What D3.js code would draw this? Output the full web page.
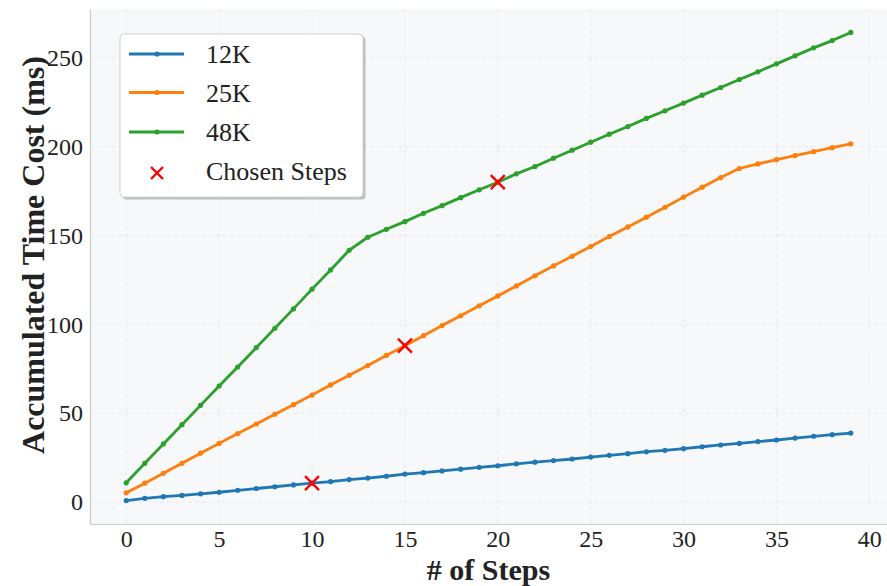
<!DOCTYPE html>
<html lang="en">
<head>
	<meta charset="UTF-8">
	<title>Accumulated Time Cost</title>
	<script src="https://cdn.jsdelivr.net/npm/d3@7"></script>
	<style>
		body { margin: 0; background: #fff; }
		text { font-family: "Liberation Serif", "Times New Roman", serif; fill: #222; }
		.grid line { stroke: #e3e5e8; stroke-dasharray: 4,3; stroke-width: 0.8; }
		.axis path, .axis line { stroke: #ccc; }
		.axis text { font-size: 24px; fill: #222; }
	</style>
</head>
<body>
	<div id="container"></div>
	<script>
		var width = 887, height = 586;
		var plot = { left: 90, top: 9, right: 887, bottom: 524 };

		var steps = d3.range(0, 40);

		var cost12K = [0.8, 2.1, 3.0, 3.7, 4.6, 5.5, 6.6, 7.6, 8.6, 9.6,
			10.6, 11.5, 12.6, 13.5, 14.5, 15.7, 16.5, 17.5, 18.5, 19.5,
			20.4, 21.5, 22.4, 23.3, 24.2, 25.3, 26.3, 27.2, 28.3, 29.1,
			30.0, 31.1, 32.1, 33.0, 34.0, 34.9, 36.0, 37.0, 37.9, 38.8];

		var cost25K = [5.2, 10.6, 16.2, 21.8, 27.5, 33.0, 38.5, 43.9, 49.4, 54.8,
			60.2, 65.9, 71.3, 76.8, 82.5, 88.0, 93.6, 99.3, 104.8, 110.4,
			116.0, 121.6, 127.3, 132.9, 138.3, 143.8, 149.4, 154.8, 160.3, 165.9,
			171.6, 177.2, 182.6, 187.7, 190.3, 192.7, 195.0, 197.2, 199.4, 201.6];

		var cost48K = [10.8, 21.8, 32.7, 43.5, 54.4, 65.3, 76.0, 86.9, 97.8, 108.7,
			119.8, 130.6, 141.7, 149.0, 153.5, 157.8, 162.5, 166.8, 171.3, 175.7,
			180.0, 184.7, 188.8, 193.5, 198.0, 202.5, 207.0, 211.3, 215.9, 220.2,
			224.5, 229.0, 233.3, 237.8, 242.1, 246.6, 251.1, 255.6, 259.7, 264.3];

		var seriesNames = ["12K", "25K", "48K"];
		var seriesColors = ["#1f77b4", "#ff7f0e", "#2ca02c"];
		var seriesValues = [cost12K, cost25K, cost48K];

		// chosen step per series: [series index, step]
		var chosen = [[0, 10], [1, 15], [2, 20]];

		var xTicks = [0, 5, 10, 15, 20, 25, 30, 35, 40];
		var yTicks = [0, 50, 100, 150, 200, 250];

		var svg = d3.select("#container").append("svg")
			.attr("width", width)
			.attr("height", height);

		var allVals = d3.merge(seriesValues);
		var yMin = d3.min(allVals), yMax = d3.max(allVals);
		var yPad = (yMax - yMin) * 0.05;
		var xPad = (d3.max(steps) - d3.min(steps)) * 0.05;

		var x = d3.scaleLinear()
			.domain([d3.min(steps) - xPad, d3.max(steps) + xPad])
			.range([plot.left, plot.right]);

		var y = d3.scaleLinear()
			.domain([yMin - yPad, yMax + yPad])
			.range([plot.bottom, plot.top]);

		// plot background
		svg.append("rect")
			.attr("x", plot.left)
			.attr("y", plot.top)
			.attr("width", plot.right - plot.left)
			.attr("height", plot.bottom - plot.top)
			.attr("fill", "#f7f8fa");

		// grid
		var grid = svg.append("g").attr("class", "grid");
		grid.selectAll("line.gx").data(xTicks.filter(function(t) { return x(t) <= plot.right; }))
			.enter().append("line")
				.attr("x1", function(d) { return x(d); })
				.attr("x2", function(d) { return x(d); })
				.attr("y1", plot.top)
				.attr("y2", plot.bottom);
		grid.selectAll("line.gy").data(yTicks)
			.enter().append("line")
				.attr("x1", plot.left)
				.attr("x2", plot.right)
				.attr("y1", function(d) { return y(d); })
				.attr("y2", function(d) { return y(d); });

		// axes
		var xAxis = svg.append("g")
			.attr("class", "axis")
			.attr("transform", "translate(0," + plot.bottom + ")")
			.call(d3.axisBottom(x).tickValues(xTicks).tickSize(0).tickPadding(6).tickFormat(d3.format("d")));
		xAxis.select(".domain").attr("stroke", "#ccc").attr("stroke-width", 1.2);

		var yAxis = svg.append("g")
			.attr("class", "axis")
			.attr("transform", "translate(" + plot.left + ",0)")
			.call(d3.axisLeft(y).tickValues(yTicks).tickSize(0).tickPadding(7).tickFormat(d3.format("d")));
		yAxis.select(".domain").attr("stroke", "#ccc").attr("stroke-width", 1.2);

		// axis titles
		svg.append("text")
			.attr("x", (plot.left + plot.right) / 2)
			.attr("y", 580)
			.attr("text-anchor", "middle")
			.attr("font-size", "30px")
			.attr("font-weight", "bold")
			.text("# of Steps");

		svg.append("text")
			.attr("transform", "translate(44,255) rotate(-90)")
			.attr("text-anchor", "middle")
			.attr("font-size", "32px")
			.attr("font-weight", "bold")
			.text("Accumulated Time Cost (ms)");

		// lines
		var line = d3.line()
			.x(function(d, i) { return x(steps[i]); })
			.y(function(d) { return y(d); });

		seriesValues.forEach(function(vals, s) {
			var g = svg.append("g");
			g.append("path")
				.datum(vals)
				.attr("d", line)
				.attr("fill", "none")
				.attr("stroke", seriesColors[s])
				.attr("stroke-width", 2.8)
				.attr("stroke-linejoin", "round");
			g.selectAll("circle").data(vals)
				.enter().append("circle")
					.attr("cx", function(d, i) { return x(steps[i]); })
					.attr("cy", function(d) { return y(d); })
					.attr("r", 2.6)
					.attr("fill", seriesColors[s]);
		});

		// chosen step markers
		function cross(g, cx, cy, r) {
			g.append("path")
				.attr("d", "M" + (cx - r) + "," + (cy - r) + "L" + (cx + r) + "," + (cy + r) +
					"M" + (cx - r) + "," + (cy + r) + "L" + (cx + r) + "," + (cy - r))
				.attr("stroke", "red")
				.attr("stroke-width", 2.4)
				.attr("fill", "none");
		}
		var marks = svg.append("g");
		chosen.forEach(function(c) {
			cross(marks, x(c[1]), y(seriesValues[c[0]][c[1]]), 7);
		});

		// legend
		var lg = svg.append("g").attr("transform", "translate(120,34)");
		lg.append("rect")
			.attr("x", 2.5).attr("y", 2.5)
			.attr("width", 243).attr("height", 163)
			.attr("rx", 4)
			.attr("fill", "#888").attr("opacity", 0.5);
		lg.append("rect")
			.attr("width", 243).attr("height", 163)
			.attr("rx", 4)
			.attr("fill", "#fff")
			.attr("stroke", "#d0d0d0");

		var rowY = [20, 58.5, 98, 138];
		seriesNames.forEach(function(name, s) {
			lg.append("line")
				.attr("x1", 9).attr("x2", 64)
				.attr("y1", rowY[s]).attr("y2", rowY[s])
				.attr("stroke", seriesColors[s])
				.attr("stroke-width", 2.8);
			lg.append("circle")
				.attr("cx", 37).attr("cy", rowY[s]).attr("r", 2.6)
				.attr("fill", seriesColors[s]);
			lg.append("text")
				.attr("x", 86).attr("y", rowY[s] + 9)
				.attr("font-size", "26px")
				.text(name);
		});
		cross(lg, 37, rowY[3] + 1, 6);
		lg.append("text")
			.attr("x", 86).attr("y", rowY[3] + 8)
			.attr("font-size", "26px")
			.text("Chosen Steps");
	</script>
</body>
</html>
